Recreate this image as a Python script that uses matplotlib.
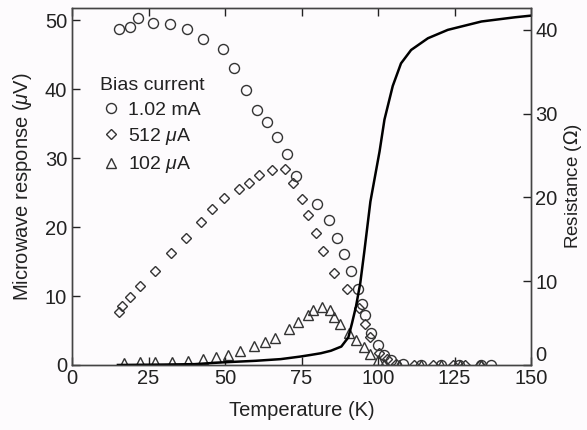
import matplotlib
matplotlib.use("Agg")
import matplotlib.pyplot as plt
import numpy as np

# 1.02 mA bias (circles)
t_high = [15.5, 19.0, 21.7, 26.5, 31.9, 37.5, 42.7, 49.2, 53.0, 56.7, 60.4, 63.6,
          67.0, 70.2, 73.1, 80.0, 84.0, 86.5, 88.9, 91.1, 93.5, 94.7, 95.7, 97.7,
          99.9, 102.1, 104.3, 108.1, 114.0, 120.5, 126.5, 133.5, 137.0]
v_high = [48.7, 49.1, 50.3, 49.6, 49.5, 48.8, 47.3, 45.9, 43.1, 39.9, 37.0, 35.3,
          33.1, 30.6, 27.5, 23.3, 21.1, 18.4, 16.1, 13.6, 11.1, 8.9, 7.2, 4.6,
          2.9, 1.5, 0.7, 0.1, 0.0, 0.0, 0.0, 0.0, 0.0]

# 512 uA bias (diamonds)
t_mid = [15.2, 16.3, 19.0, 22.3, 27.2, 32.4, 37.1, 42.0, 45.9, 49.5, 54.6, 57.8,
         61.1, 65.3, 69.5, 72.2, 75.0, 77.2, 79.7, 82.1, 85.5, 89.8, 93.9, 95.8,
         97.5, 100.2, 102.8, 105.9, 111.9, 117.9, 124.5, 128.3, 133.2]
v_mid = [7.7, 8.5, 9.9, 11.5, 13.6, 16.3, 18.5, 20.7, 22.7, 24.3, 25.6, 26.4,
         27.6, 28.3, 28.4, 26.4, 24.1, 21.8, 19.2, 16.5, 13.4, 11.1, 8.3, 6.0,
         4.1, 1.7, 0.8, 0.1, 0.0, 0.0, 0.0, 0.0, 0.0]

# 102 uA bias (triangles)
t_low = [17.1, 22.1, 27.1, 32.6, 37.8, 42.8, 47.1, 51.0, 54.8, 59.4, 63.0, 66.3,
         70.8, 73.9, 77.0, 78.9, 81.7, 84.4, 85.7, 87.6, 90.4, 92.8, 95.3, 97.5,
         99.9, 102.1, 107.0, 114.1, 120.7, 126.7, 133.8]
v_low = [0.3, 0.4, 0.4, 0.5, 0.6, 0.8, 1.1, 1.5, 2.0, 2.7, 3.4, 3.9,
         5.2, 6.2, 7.3, 8.0, 8.4, 8.0, 7.0, 6.0, 4.6, 3.6, 2.6, 1.6,
         0.7, 0.2, 0.0, 0.0, 0.0, 0.0, 0.0]

# resistance curve
t_res = [15, 30, 40, 48.5, 60, 68.2, 74.5, 78, 81.3, 84.6, 88.0, 90.3, 91.5,
         92.8, 94.2, 95.5, 96.5, 97.5, 99.0, 100.5, 102.1, 104.8, 107.5, 110.8,
         116.3, 122.8, 133.8, 144.7, 150]
r_res = [0.0, 0.05, 0.1, 0.3, 0.5, 0.7, 1.0, 1.2, 1.4, 1.7, 2.2, 3.3, 5.0,
         7.0, 9.8, 13.5, 16.5, 19.5, 22.5, 25.5, 29.3, 33.3, 36.0, 37.6,
         39.0, 40.0, 41.0, 41.5, 41.7]

plt.rcParams['font.family'] = ['Liberation Sans', 'DejaVu Sans']
plt.rcParams['mathtext.fontset'] = 'custom'
plt.rcParams['mathtext.it'] = 'Liberation Sans:italic'

ink = '#222222'
fig = plt.figure(figsize=(5.87, 4.30), dpi=100, facecolor='#fdfbfd')
ax = fig.add_axes([0.1227, 0.1512, 0.782, 0.830])
ax.set_facecolor('#fdfbfd')
ax2 = ax.twinx()

mk = dict(linestyle='none', markerfacecolor='none', markeredgecolor='#333333',
          markeredgewidth=1.0)
ax.plot(t_high, v_high, marker='o', markersize=7.2, label='1.02 mA', **mk)
ax.plot(t_mid, v_mid, marker='D', markersize=4.8, label=r'512 $\mu$A', **mk)
ax.plot(t_low, v_low, marker='^', markersize=7.2, label=r'102 $\mu$A', **mk)

ax2.plot(t_res, r_res, color='black', linewidth=1.8)

ax.set_xlim(0, 150)
ax.set_ylim(0, 51.8)
ax2.set_ylim(0, 42.6)
ax.set_xticks([0, 25, 50, 75, 100, 125, 150])
ax.set_yticks([0, 10, 20, 30, 40, 50])
ax2.set_yticks([0, 10, 20, 30, 40])

ax.tick_params(axis='x', direction='in', top=True, length=6, width=1,
               labelsize=14.5, colors=ink, pad=3)
ax.tick_params(axis='y', direction='in', length=6, width=1,
               labelsize=14.5, colors=ink)
ax2.tick_params(axis='y', direction='in', length=6, width=1,
                labelsize=14.5, colors=ink, pad=3)
for a in (ax, ax2):
    for s in a.spines.values():
        s.set_color('#444444')
        s.set_linewidth(1.0)

# lift the right-hand "0" clear of the "150" below it
ax2.get_yticklabels()[0].set_va('bottom')

ax.set_xlabel('Temperature (K)', fontsize=14.5, color=ink, labelpad=9)
ax.set_ylabel(r'Microwave response ($\mu$V)', fontsize=14.5, color=ink, labelpad=8)
ax2.set_ylabel(r'Resistance ($\Omega$)', fontsize=13.5, color=ink, labelpad=3)

leg = ax.legend(title='Bias current', loc='upper left',
                bbox_to_anchor=(0.045, 0.83), frameon=False, fontsize=14,
                title_fontsize=14, handletextpad=0.3, handlelength=1.1,
                labelspacing=0.38, borderaxespad=0)
leg._legend_box.align = 'left'
for txt in leg.get_texts():
    txt.set_color(ink)
leg.get_title().set_color(ink)

fig.savefig('out.png', dpi=100, facecolor=fig.get_facecolor())
